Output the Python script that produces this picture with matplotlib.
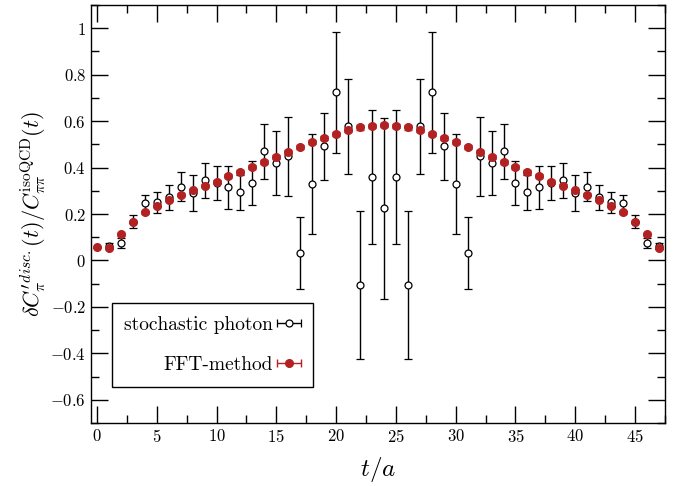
import numpy as np
import matplotlib
matplotlib.use("Agg")
import matplotlib.pyplot as plt
from matplotlib.ticker import MultipleLocator, FuncFormatter
from matplotlib.container import ErrorbarContainer
from matplotlib.legend_handler import HandlerErrorbar

plt.rcParams['font.family'] = 'serif'
plt.rcParams['font.serif'] = ['cmr10']
plt.rcParams['mathtext.fontset'] = 'cm'
plt.rcParams['axes.formatter.use_mathtext'] = True

# stochastic photon estimate, t = 1..47
t_stoch = list(range(1, 48))
stoch = [0.063, 0.076, 0.167, 0.249, 0.251, 0.272, 0.318, 0.290, 0.345, 0.333,
         0.315, 0.293, 0.332, 0.470, 0.420, 0.448, 0.033, 0.329, 0.491, 0.725,
         0.578, -0.106, 0.359, 0.224, 0.359, -0.106, 0.578, 0.725, 0.491, 0.329,
         0.033, 0.448, 0.420, 0.470, 0.332, 0.293, 0.315, 0.333, 0.345, 0.290,
         0.318, 0.272, 0.251, 0.249, 0.167, 0.076, 0.063]
stoch_err = [0.012, 0.022, 0.029, 0.035, 0.045, 0.053, 0.063, 0.078, 0.075, 0.073,
             0.093, 0.075, 0.095, 0.118, 0.138, 0.170, 0.155, 0.216, 0.145, 0.260,
             0.205, 0.320, 0.290, 0.390, 0.290, 0.320, 0.205, 0.260, 0.145, 0.216,
             0.155, 0.170, 0.138, 0.118, 0.095, 0.075, 0.093, 0.073, 0.075, 0.078,
             0.063, 0.053, 0.045, 0.035, 0.029, 0.022, 0.012]

# FFT method, t = 0..47
t_fft = list(range(0, 48))
fft = [0.056, 0.052, 0.112, 0.167, 0.207, 0.236, 0.262, 0.283, 0.302, 0.322,
       0.340, 0.363, 0.382, 0.402, 0.424, 0.445, 0.467, 0.488, 0.509, 0.527,
       0.544, 0.562, 0.573, 0.580, 0.582, 0.580, 0.573, 0.562, 0.544, 0.527,
       0.509, 0.488, 0.467, 0.445, 0.424, 0.402, 0.382, 0.363, 0.340, 0.322,
       0.302, 0.283, 0.262, 0.236, 0.207, 0.167, 0.112, 0.052]
fft_err = [0.004, 0.004, 0.005, 0.005, 0.006, 0.006, 0.006, 0.007, 0.007, 0.007,
           0.007, 0.008, 0.008, 0.008, 0.008, 0.008, 0.009, 0.009, 0.009, 0.009,
           0.009, 0.009, 0.009, 0.009, 0.009, 0.009, 0.009, 0.009, 0.009, 0.009,
           0.009, 0.009, 0.009, 0.008, 0.008, 0.008, 0.008, 0.008, 0.007, 0.007,
           0.007, 0.007, 0.006, 0.006, 0.006, 0.005, 0.005, 0.004]

red = '#b22222'

fig = plt.figure(figsize=(6.83, 4.86), dpi=100)
ax = fig.add_axes([0.1332, 0.1296, 0.8404, 0.860])

ax.errorbar(t_stoch, stoch, yerr=stoch_err, fmt='o', ms=5, mfc='white', mec='black',
            mew=0.9, color='black', ecolor='black', elinewidth=1, capsize=3, capthick=1)
ax.errorbar(t_fft, fft, yerr=fft_err, fmt='o', ms=5.5, mfc=red, mec=red,
            color=red, ecolor=red, elinewidth=1, capsize=3, capthick=1)

# legend proxies with horizontal bars
h1 = ax.errorbar([np.nan], [np.nan], xerr=[1], fmt='o', ms=5, mfc='white', mec='black',
                 mew=0.9, color='black', ecolor='black', elinewidth=1, capsize=3,
                 label='stochastic photon')
h2 = ax.errorbar([np.nan], [np.nan], xerr=[1], fmt='o', ms=5.5, mfc=red, mec=red,
                 color=red, ecolor=red, elinewidth=1, capsize=3, label='FFT-method')
leg = ax.legend(handles=[h1, h2], loc='lower left', bbox_to_anchor=(0.036, 0.087),
                handler_map={ErrorbarContainer: HandlerErrorbar(xerr_size=0.62)},
                markerfirst=False, fontsize=14, frameon=True, fancybox=False,
                edgecolor='black', framealpha=1, handlelength=1.2, handletextpad=0.2,
                labelspacing=1.15, borderpad=0.65, borderaxespad=0)
leg.get_frame().set_linewidth(1.0)

ax.set_xlim(-0.5, 47.5)
ax.set_ylim(-0.7, 1.1)
ax.xaxis.set_major_locator(MultipleLocator(5))
ax.xaxis.set_minor_locator(MultipleLocator(2.5))
ax.yaxis.set_major_locator(MultipleLocator(0.2))
ax.yaxis.set_minor_locator(MultipleLocator(0.1))
fmt = FuncFormatter(lambda v, p: '$%g$' % round(v, 6))
ax.xaxis.set_major_formatter(fmt)
ax.yaxis.set_major_formatter(fmt)
ax.tick_params(which='both', direction='in', top=True, right=True, width=1,
               labelsize=12)
ax.tick_params(which='major', length=12)
ax.tick_params(which='minor', length=6)
for s in ax.spines.values():
    s.set_linewidth(1.0)

ax.set_xlabel(r'$t/a$', fontsize=18, labelpad=7)
ax.set_ylabel(r'$\delta C^{\prime\,disc.}_{\pi}(t)/C^{\mathrm{isoQCD}}_{\pi\pi}(t)$',
              fontsize=16, labelpad=2)

fig.savefig('out.png', dpi=100)
